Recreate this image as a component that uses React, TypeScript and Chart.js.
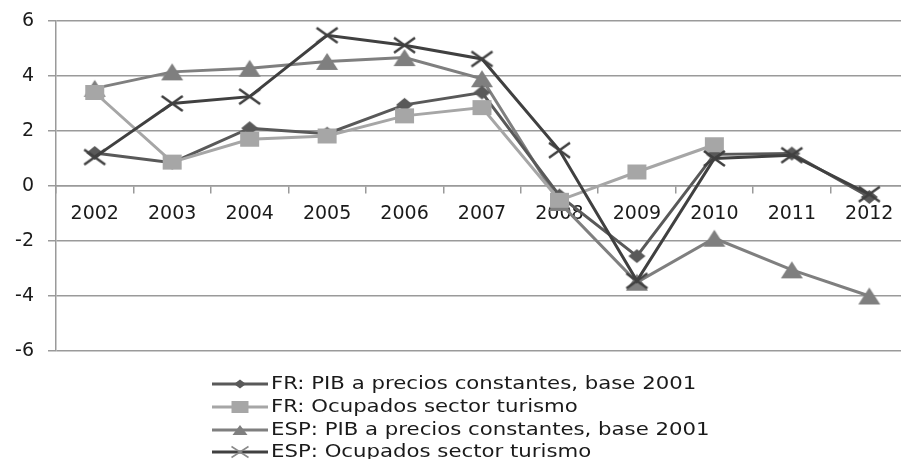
import React, { useEffect, useRef } from "react";
import { Chart, registerables } from "chart.js";

Chart.register(...registerables);

const years = ["2002", "2003", "2004", "2005", "2006", "2007", "2008", "2009", "2010", "2011", "2012"];
const frPib = [1.2, 0.85, 2.1, 1.9, 2.95, 3.4, -0.35, -2.55, 1.15, 1.18, -0.4];
const frOcupados = [3.4, 0.87, 1.7, 1.82, 2.55, 2.85, -0.52, 0.51, 1.5, null, null];
const espPib = [3.55, 4.15, 4.28, 4.53, 4.67, 3.9, -0.6, -3.5, -1.9, -3.05, -4.0];
const espOcupados = [1.05, 3.0, 3.25, 5.48, 5.12, 4.62, 1.3, -3.45, 1.0, 1.12, -0.3];
const seriesLabels = [
  "FR: PIB a precios constantes, base 2001",
  "FR: Ocupados sector turismo",
  "ESP: PIB a precios constantes, base 2001",
  "ESP: Ocupados sector turismo",
];
const yTicks = [-6, -4, -2, 0, 2, 4, 6];

const C_FRPIB = "#595959";
const C_FROCU = "#a6a6a6";
const C_ESPPIB = "#7f7f7f";
const C_ESPOCU = "#404040";
const FONT = "'DejaVu Sans', sans-serif";

type Shape = "diamond" | "square" | "triangle" | "cross";

function drawShape(ctx: CanvasRenderingContext2D, shape: Shape, cx: number, cy: number, w: number, h: number, color: string, lw = 2.5) {
  ctx.save();
  ctx.fillStyle = color;
  ctx.strokeStyle = color;
  ctx.beginPath();
  if (shape === "diamond") {
    ctx.moveTo(cx, cy - h / 2);
    ctx.lineTo(cx + w / 2, cy);
    ctx.lineTo(cx, cy + h / 2);
    ctx.lineTo(cx - w / 2, cy);
    ctx.closePath();
    ctx.fill();
  } else if (shape === "square") {
    ctx.rect(cx - w / 2, cy - h / 2, w, h);
    ctx.fill();
  } else if (shape === "triangle") {
    ctx.moveTo(cx, cy - h / 2);
    ctx.lineTo(cx + w / 2, cy + h / 2);
    ctx.lineTo(cx - w / 2, cy + h / 2);
    ctx.closePath();
    ctx.fill();
  } else {
    ctx.lineWidth = lw;
    ctx.moveTo(cx - w / 2, cy - h / 2);
    ctx.lineTo(cx + w / 2, cy + h / 2);
    ctx.moveTo(cx + w / 2, cy - h / 2);
    ctx.lineTo(cx - w / 2, cy + h / 2);
    ctx.stroke();
  }
  ctx.restore();
}

function makeMarker(shape: Shape, w: number, h: number, color: string): HTMLCanvasElement {
  const c = document.createElement("canvas");
  c.width = w + 4;
  c.height = h + 4;
  const ctx = c.getContext("2d")!;
  drawShape(ctx, shape, c.width / 2, c.height / 2, w, h, color);
  return c;
}

const legendItems: { shape: Shape; color: string; marker: string; w: number; h: number }[] = [
  { shape: "diamond", color: C_FRPIB, marker: C_FRPIB, w: 12, h: 9 },
  { shape: "square", color: C_FROCU, marker: C_FROCU, w: 17, h: 12 },
  { shape: "triangle", color: C_ESPPIB, marker: C_ESPPIB, w: 15, h: 10 },
  { shape: "cross", color: C_ESPOCU, marker: "#8a8a8a", w: 17, h: 11 },
];

const legendPlugin = {
  id: "customLegend",
  afterDraw(chart: any) {
    const ctx = chart.ctx as CanvasRenderingContext2D;
    const rows = [384, 407, 430, 452];
    ctx.save();
    legendItems.forEach((it, i) => {
      const y = rows[i];
      ctx.strokeStyle = it.color;
      ctx.lineWidth = 3;
      ctx.beginPath();
      ctx.moveTo(212, y);
      ctx.lineTo(268, y);
      ctx.stroke();
      drawShape(ctx, it.shape, 240, y, it.w, it.h, it.marker, 1.5);
      ctx.save();
      ctx.translate(271, y + 1);
      ctx.scale(1.25, 1);
      ctx.fillStyle = "#1a1a1a";
      ctx.font = `17px ${FONT}`;
      ctx.textBaseline = "middle";
      ctx.textAlign = "left";
      ctx.fillText(seriesLabels[i], 0, 0);
      ctx.restore();
    });
    ctx.restore();
  },
};

export default function App() {
  const ref = useRef<HTMLCanvasElement | null>(null);
  useEffect(() => {
    document.body.style.overflow = "hidden";
    const canvas = ref.current!;
    const mDiamond = makeMarker("diamond", 17, 14, C_FRPIB);
    const mSquare = makeMarker("square", 19, 15, C_FROCU);
    const mTriangle = makeMarker("triangle", 22, 17, C_ESPPIB);
    const mCross = makeMarker("cross", 21, 15, C_ESPOCU);
    const chart = new Chart(canvas, {
      type: "line",
      data: {
        labels: years,
        datasets: [
          { label: seriesLabels[0], data: frPib, borderColor: C_FRPIB, backgroundColor: C_FRPIB, borderWidth: 3, pointStyle: mDiamond as any, pointRadius: 5, order: 3 },
          { label: seriesLabels[1], data: frOcupados, borderColor: C_FROCU, backgroundColor: C_FROCU, borderWidth: 3, pointStyle: mSquare as any, pointRadius: 5, order: 2 },
          { label: seriesLabels[2], data: espPib, borderColor: C_ESPPIB, backgroundColor: C_ESPPIB, borderWidth: 3, pointStyle: mTriangle as any, pointRadius: 5, order: 4 },
          { label: seriesLabels[3], data: espOcupados, borderColor: C_ESPOCU, backgroundColor: C_ESPOCU, borderWidth: 3, pointStyle: mCross as any, pointRadius: 5, order: 1 },
        ],
      },
      options: {
        responsive: false,
        animation: false,
        devicePixelRatio: 1,
        spanGaps: false,
        layout: { padding: { top: 21, right: 3, bottom: 108, left: 0 } },
        plugins: { legend: { display: false }, tooltip: { enabled: false } },
        scales: {
          x: {
            type: "category",
            position: { y: 0 } as any,
            offset: true,
            grid: { drawOnChartArea: false, drawTicks: true, tickLength: 7, offset: true, color: "#9a9a9a", lineWidth: 1.5 },
            border: { color: "#9a9a9a", width: 1.5 },
            ticks: { font: { family: FONT, size: 19 }, color: "#1a1a1a", padding: 10, maxRotation: 0, autoSkip: false },
          },
          y: {
            min: -6,
            max: 6,
            afterFit: (scale: any) => {
              scale.width = 56;
              scale.paddingTop = 0;
              scale.paddingBottom = 0;
            },
            afterBuildTicks: (scale: any) => { scale.ticks = yTicks.map((v) => ({ value: v })); },
            grid: { color: "#9a9a9a", lineWidth: 1.5, tickLength: 8 },
            border: { color: "#9a9a9a", width: 1.5 },
            ticks: { font: { family: FONT, size: 19 }, color: "#1a1a1a", padding: 14 },
          },
        },
      },
      plugins: [legendPlugin],
    });
    return () => chart.destroy();
  }, []);
  return (
    <div style={{ position: "fixed", left: 0, top: 0, width: 916, height: 459, overflow: "hidden", background: "#fff" }}>
      <canvas ref={ref} width={916} height={459} style={{ display: "block" }} />
    </div>
  );
}
